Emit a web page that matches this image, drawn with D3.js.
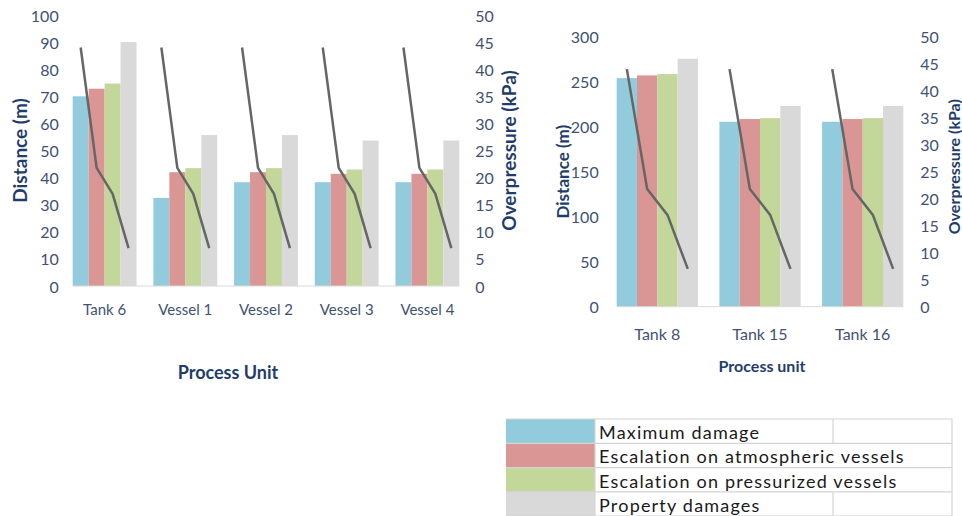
<!DOCTYPE html>
<html><head><meta charset="utf-8">
<script src="https://cdn.jsdelivr.net/npm/d3@7"></script>
<style>
html,body{margin:0;padding:0;background:#fff;}
svg{display:block;font-family:Lato,"Open Sans",sans-serif;}
</style></head>
<body>
<svg id="c" width="962" height="516"></svg>
<script>
// ---- data ----
const seriesNames = ["Maximum damage","Escalation on atmospheric vessels","Escalation on pressurized vessels","Property damages"];
const seriesColors = ["#92cbdb","#d99694","#c3d79b","#d9d9d9"];
const leftCategories = ["Tank 6","Vessel 1","Vessel 2","Vessel 3","Vessel 4"];
const leftDistances = [
  [70, 72.8, 74.7, 90],
  [32.5, 42, 43.5, 55.7],
  [38.3, 42, 43.5, 55.7],
  [38.3, 41.4, 43, 53.7],
  [38.3, 41.4, 43, 53.7]
];
const rightCategories = ["Tank 8","Tank 15","Tank 16"];
const rightDistances = [
  [254, 257, 258.5, 275.5],
  [205.5, 208.5, 209.5, 223],
  [205.5, 208.5, 209.5, 223]
];
const overpressure = [44, 21.8, 17, 7];
const leftDistTicks = [0,10,20,30,40,50,60,70,80,90,100];
const rightDistTicks = [0,50,100,150,200,250,300];
const pressTicks = [0,5,10,15,20,25,30,35,40,45,50];

const svg = d3.select("#c");
const tickColor = "#3f5272", titleColor = "#1f3d6b";

function chart(o){
  const x = d3.scaleBand().domain(o.cats).range([o.x0, o.x1]).paddingInner(0.209).paddingOuter(0);
  const xs = d3.scaleBand().domain(d3.range(4)).range([0, x.bandwidth()]);
  const y = d3.scaleLinear().domain([0, o.ymax]).range([o.yb, o.yt]);
  const y2 = d3.scaleLinear().domain([0, 50]).range([o.yb, o.yt]);
  const g = svg.append("g");
  // bars
  o.cats.forEach((c, i) => {
    g.selectAll(null).data(o.data[i]).enter().append("rect")
      .attr("x", (d, j) => x(c) + xs(j))
      .attr("width", xs.bandwidth())
      .attr("y", d => y(d))
      .attr("height", d => y(0) - y(d))
      .attr("fill", (d, j) => seriesColors[j]);
  });
  // baseline
  g.append("line").attr("x1", o.x0).attr("x2", o.x1).attr("y1", y(0)).attr("y2", y(0))
    .attr("stroke", "#d9d9d9").attr("stroke-width", 1);
  // overpressure lines
  const line = d3.line().x((d, j) => d.cx + xs(j) + xs.bandwidth()/2).y(d => y2(d.v));
  o.cats.forEach(c => {
    g.append("path").datum(overpressure.map(v => ({cx: x(c), v})))
      .attr("d", line).attr("fill", "none").attr("stroke", "#666666").attr("stroke-width", 2.5);
  });
  // left ticks
  g.selectAll(null).data(o.yticks).enter().append("text")
    .attr("x", o.x0 - o.lpad).attr("y", d => y(d)).attr("text-anchor", "end")
    .attr("dominant-baseline", "central").attr("font-size", o.tfs).attr("fill", tickColor).text(d => d);
  g.selectAll(null).data(pressTicks).enter().append("text")
    .attr("x", o.x1 + o.rpad).attr("y", d => y2(d)).attr("text-anchor", "start")
    .attr("dominant-baseline", "central").attr("font-size", o.tfs).attr("fill", tickColor).text(d => d);
  // category labels
  g.selectAll(null).data(o.cats).enter().append("text")
    .attr("x", d => x(d) + x.bandwidth()/2).attr("y", o.catY).attr("text-anchor", "middle")
    .attr("dominant-baseline", "central").attr("font-size", o.cfs).attr("fill", tickColor).text(d => d);
  // titles
  const mid = (o.yb + o.yt) / 2;
  g.append("text").attr("transform", `translate(${o.ltX},${mid}) rotate(-90)`)
    .attr("text-anchor", "middle").attr("dominant-baseline", "central")
    .attr("font-size", o.ttfs).attr("font-weight", "bold").attr("fill", titleColor).text("Distance (m)");
  g.append("text").attr("transform", `translate(${o.rtX},${mid + o.rtDy}) rotate(-90)`)
    .attr("text-anchor", "middle").attr("dominant-baseline", "central")
    .attr("font-size", o.rtfs).attr("font-weight", "bold").attr("fill", titleColor).text("Overpressure (kPa)");
  g.append("text").attr("x", o.xtX).attr("y", o.xtY).attr("text-anchor", "middle")
    .attr("dominant-baseline", "central").attr("font-size", o.xtfs).attr("font-weight", "bold")
    .attr("fill", titleColor).text(o.xTitle);
}

chart({cats: leftCategories, data: leftDistances, x0: 72.7, x1: 459.3, yb: 286, yt: 15, ymax: 100,
  yticks: leftDistTicks, lpad: 14, rpad: 16, tfs: 16, cfs: 15, catY: 309,
  ltX: 19, rtX: 508, rtDy: 0, ttfs: 19, rtfs: 19, xTitle: "Process Unit", xtX: 228, xtY: 372, xtfs: 18});

chart({cats: rightCategories, data: rightDistances, x0: 616.7, x1: 903.3, yb: 306.7, yt: 36.7, ymax: 300,
  yticks: rightDistTicks, lpad: 18, rpad: 17, tfs: 16, cfs: 16, catY: 333,
  ltX: 562, rtX: 953, rtDy: -5, ttfs: 17, rtfs: 16, xTitle: "Process unit", xtX: 762, xtY: 365, xtfs: 16});

// ---- legend table ----
const lg = svg.append("g");
const lx0 = 506, lx1 = 595, lx2 = 833, lx3 = 952, ly0 = 419, rh = 24.3;
const rows = d3.range(seriesNames.length);
lg.selectAll(null).data(rows).enter().append("rect")
  .attr("x", lx0).attr("y", i => ly0 + i*rh).attr("width", lx1 - lx0).attr("height", rh)
  .attr("fill", i => seriesColors[i]);
// borders
lg.selectAll(null).data(d3.range(seriesNames.length + 1)).enter().append("line")
  .attr("x1", lx0).attr("x2", lx3).attr("y1", i => ly0 + i*rh).attr("y2", i => ly0 + i*rh)
  .attr("stroke", "#d4d4d4").attr("stroke-width", 1.2);
lg.append("line").attr("x1", lx3).attr("x2", lx3).attr("y1", ly0).attr("y2", 516).attr("stroke", "#d4d4d4").attr("stroke-width", 1.2);
lg.append("line").attr("x1", lx1).attr("x2", lx1).attr("y1", ly0).attr("y2", 516).attr("stroke", "#d4d4d4").attr("stroke-width", 1.2);
lg.selectAll(null).data([0, 3]).enter().append("line")
  .attr("x1", lx2).attr("x2", lx2).attr("y1", i => ly0 + i*rh).attr("y2", i => ly0 + (i+1)*rh)
  .attr("stroke", "#d4d4d4").attr("stroke-width", 1.2);
lg.selectAll(null).data(seriesNames).enter().append("text")
  .attr("x", 599).attr("y", (d, i) => ly0 + i*rh + rh/2 + 1)
  .attr("dominant-baseline", "central").attr("font-size", 18).attr("letter-spacing", 1.2)
  .attr("fill", "#1a1a1a").text(d => d);
</script>
</body></html>
